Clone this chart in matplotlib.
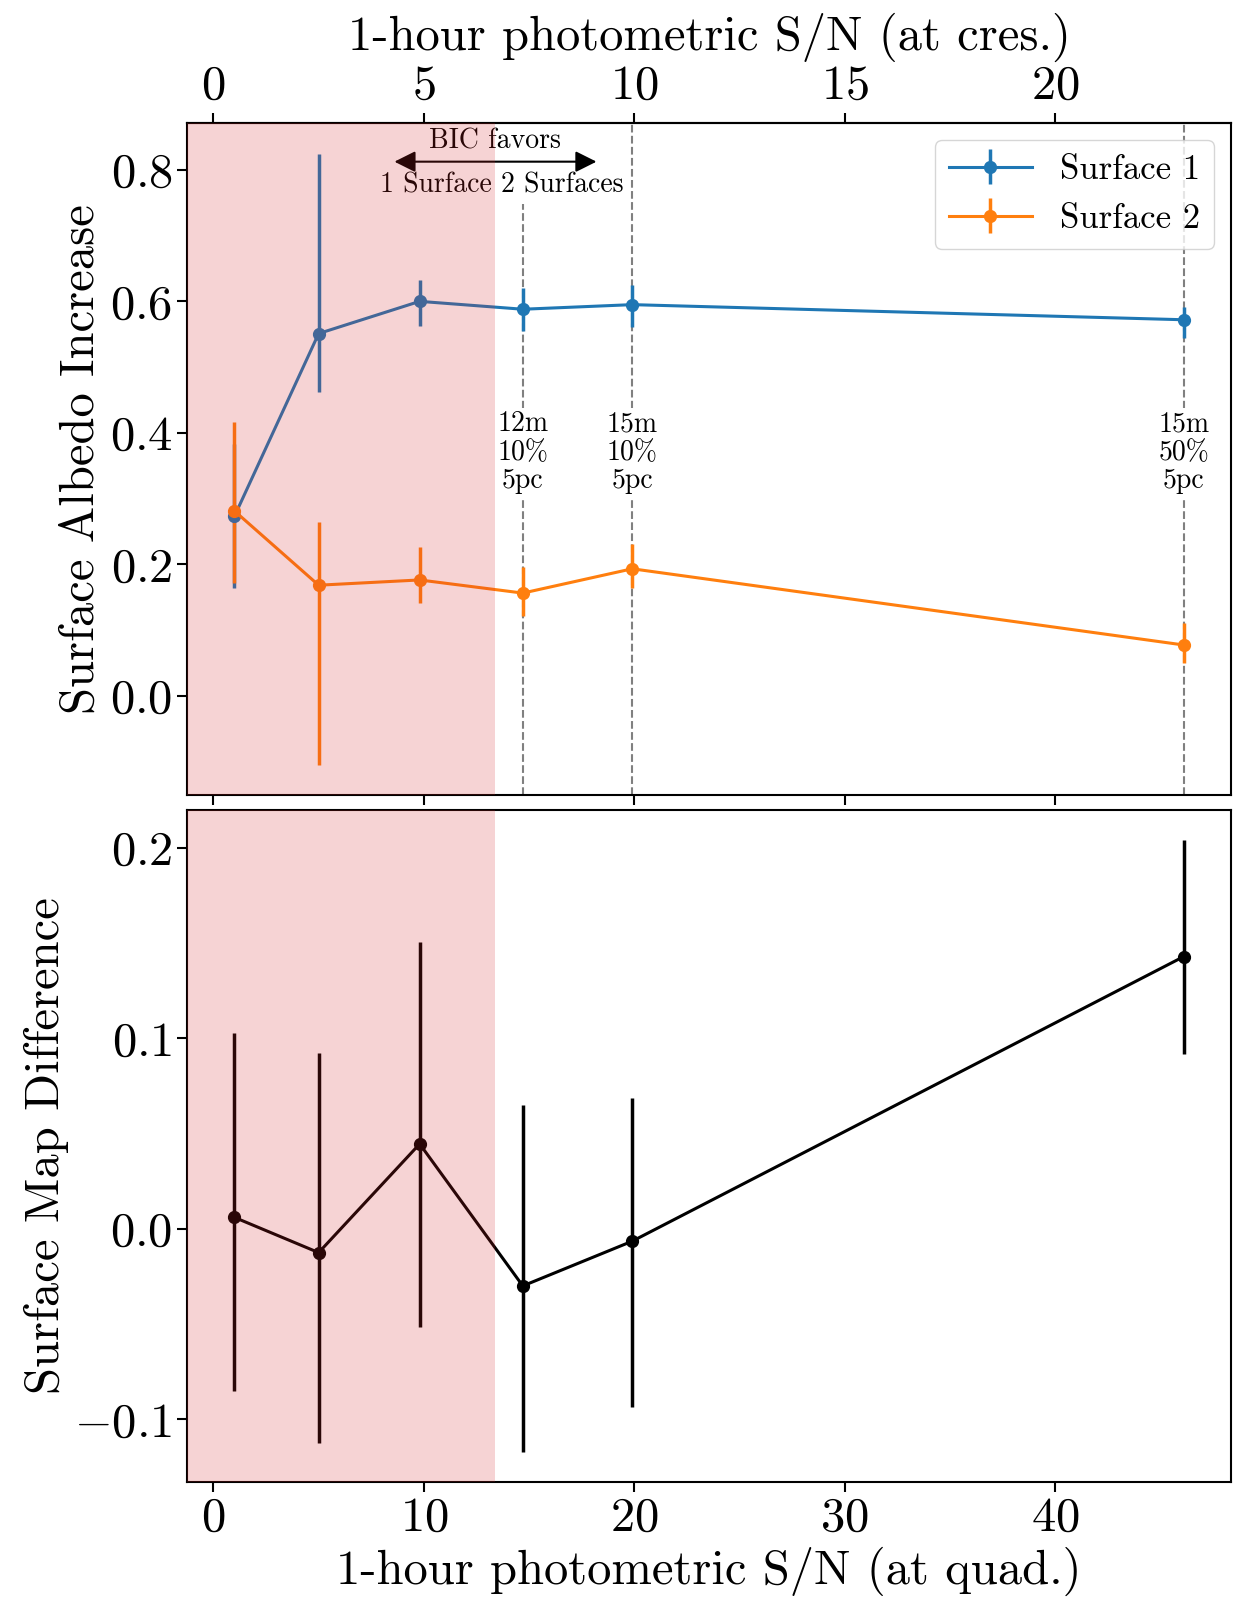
import numpy as np
import matplotlib
matplotlib.use("Agg")
import matplotlib.pyplot as plt

# S/N at quadrature for each simulated observation
snr_quad = [1.0, 5.0, 9.8, 14.7, 19.9, 46.1]

# surface albedo increase
surf1 = [0.273, 0.551, 0.600, 0.588, 0.595, 0.572]
surf1_lo = [0.110, 0.089, 0.038, 0.033, 0.034, 0.028]
surf1_hi = [0.110, 0.274, 0.032, 0.033, 0.030, 0.020]

surf2 = [0.281, 0.168, 0.176, 0.156, 0.193, 0.077]
surf2_lo = [0.110, 0.273, 0.035, 0.035, 0.030, 0.027]
surf2_hi = [0.135, 0.096, 0.050, 0.039, 0.038, 0.033]

# surface map difference
mapdiff = [0.006, -0.0125, 0.0446, -0.030, -0.0065, 0.143]
mapdiff_lo = [0.091, 0.100, 0.096, 0.087, 0.087, 0.051]
mapdiff_hi = [0.097, 0.105, 0.106, 0.095, 0.075, 0.061]

# telescope configurations marked on the top panel
config_x = [14.7, 19.9, 46.1]
config_labels = ["12m\n10%\n5pc", "15m\n10%\n5pc", "15m\n50%\n5pc"]

bic_split = 13.4

plt.rcParams.update({
    "font.family": "serif",
    "font.serif": ["cmr10"],
    "mathtext.fontset": "cm",
    "axes.formatter.use_mathtext": True,
    "font.size": 35,
    "axes.linewidth": 1.5,
    "xtick.major.width": 1.5,
    "ytick.major.width": 1.5,
    "xtick.major.size": 7,
    "ytick.major.size": 7,
})

fig, (ax1, ax2) = plt.subplots(2, 1, figsize=(12.55, 16.18), dpi=100, sharex=True)
fig.subplots_adjust(left=0.149, right=0.981, top=0.924, bottom=0.084, hspace=0.022)

ax1.errorbar(snr_quad, surf1, yerr=[surf1_lo, surf1_hi], fmt="o-", color="C0",
             lw=2.2, elinewidth=2.5, ms=8.5, label="Surface 1")
ax1.errorbar(snr_quad, surf2, yerr=[surf2_lo, surf2_hi], fmt="o-", color="C1",
             lw=2.2, elinewidth=2.5, ms=8.5, label="Surface 2")

ax2.errorbar(snr_quad, mapdiff, yerr=[mapdiff_lo, mapdiff_hi], fmt="o-", color="k",
             lw=2.2, elinewidth=2.5, ms=8.5)

xmin, xmax = ax2.get_xlim()
for ax in (ax1, ax2):
    ax.axvspan(xmin - 5, bic_split, color="C3", alpha=0.2, lw=0, zorder=10)
ax2.set_xlim(xmin, xmax)

ymin, ymax = ax1.get_ylim()
for i, (x, lab) in enumerate(zip(config_x, config_labels)):
    top = 0.88 if i == 0 else 1.0
    ax1.axvline(x, ymax=top, color="gray", ls="--", lw=1.5, zorder=1)
    ax1.text(x, 0.37, lab, ha="center", va="center", fontsize=20, linespacing=1.1,
             bbox=dict(facecolor="white", edgecolor="none", pad=2), zorder=2)
ax1.set_ylim(ymin, ymax)

ax1.annotate("", xy=(bic_split - 4.8, 0.8126), xytext=(bic_split + 4.8, 0.8126),
             arrowprops=dict(arrowstyle="<|-|>", color="k", lw=1.5, mutation_scale=32,
                             shrinkA=0, shrinkB=0), zorder=3)
ax1.text(bic_split, 0.843, "BIC favors", ha="center", va="center", fontsize=20)
ax1.text(bic_split + 0.3, 0.776, "1 Surface 2 Surfaces", ha="center", va="center", fontsize=20)

ax1.legend(loc="upper right", fontsize=25, handlelength=2.4, labelspacing=0.5)
ax1.set_ylabel("Surface Albedo Increase")
ax1.tick_params(labelbottom=False)

top_ax = ax1.secondary_xaxis("top", functions=(lambda x: x / 2, lambda x: 2 * x))
top_ax.set_xticks([0, 5, 10, 15, 20])
top_ax.set_xlabel("1-hour photometric S/N (at cres.)", labelpad=10)

ax2.set_ylabel("Surface Map Difference")
ax2.set_xlabel("1-hour photometric S/N (at quad.)")

fig.savefig("out.png", dpi=100)
